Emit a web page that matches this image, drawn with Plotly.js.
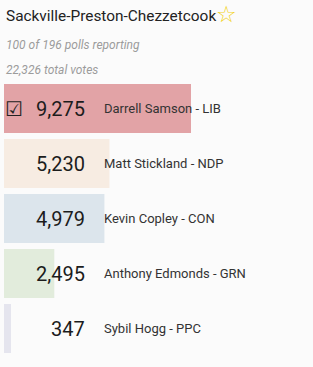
<!DOCTYPE html>
<html><head><meta charset="utf-8">
<script src="https://cdn.plot.ly/plotly-3.0.1.min.js"></script>
<style>html,body{margin:0;padding:0;background:#fbfbfb;}#chart{width:313px;height:367px;}</style>
</head><body><div id="chart"></div>
<script>
var riding = "Sackville-Preston-Chezzetcook";
var pollsReporting = 100;
var pollsTotal = 196;
var candidates = ["Darrell Samson", "Matt Stickland", "Kevin Copley", "Anthony Edmonds", "Sybil Hogg"];
var parties = ["LIB", "NDP", "CON", "GRN", "PPC"];
var votes = [9275, 5230, 4979, 2495, 347];

var partyColors = {LIB:"#e2a3a6", NDP:"#f7ece2", CON:"#dce5ec", GRN:"#e2ecdc", PPC:"#e5e5ee"};
var total = votes.reduce(function(a,b){return a+b;},0);
var fmt = function(n){return n.toLocaleString("en-US");};
var yCats = parties.map(function(p,i){return i;});

var trace = {
  type:"bar", orientation:"h",
  x: votes, y: yCats,
  marker:{color: parties.map(function(p){return partyColors[p];})},
  hoverinfo:"skip"
};

// pixel helpers: plot area x 4..313, y 81..356
function px(x){return (x-4)/309;}
function py(y){return (356-y)/275;}

var ann = [];
ann.push({xref:"paper", yref:"paper", x:px(4), y:py(16), xanchor:"left", yanchor:"middle", showarrow:false,
  text:riding, font:{family:"Roboto", size:15.4, color:"#222"}});
ann.push({xref:"paper", yref:"paper", x:px(226), y:py(14), xanchor:"center", yanchor:"middle", showarrow:false,
  text:"☆", font:{family:"DejaVu Sans", size:23, color:"#f2d21a"}});
ann.push({xref:"paper", yref:"paper", x:px(4), y:py(45), xanchor:"left", yanchor:"middle", showarrow:false,
  text:"<i>"+pollsReporting+" of "+pollsTotal+" polls reporting</i>", font:{family:"Roboto", size:12, color:"#9c9c9c"}});
ann.push({xref:"paper", yref:"paper", x:px(4), y:py(70), xanchor:"left", yanchor:"middle", showarrow:false,
  text:"<i>"+fmt(total)+" total votes</i>", font:{family:"Roboto", size:12, color:"#9c9c9c"}});
for (var i=0;i<votes.length;i++){
  ann.push({xref:"paper", yref:"y", x:px(87), y:i, xanchor:"right", yanchor:"middle", showarrow:false,
    text:fmt(votes[i]), font:{family:"Roboto", size:20, color:"#1c1c1c"}});
  ann.push({xref:"paper", yref:"y", x:px(102), y:i, xanchor:"left", yanchor:"middle", showarrow:false,
    text:candidates[i]+" - "+parties[i], font:{family:"Roboto", size:13, color:"#333"}});
}
ann.push({xref:"paper", yref:"y", x:px(14), y:0, xanchor:"center", yanchor:"middle", showarrow:false,
  text:"<b>☑</b>", font:{family:"DejaVu Sans", size:20, color:"#222"}});

var layout = {
  width:313, height:367,
  margin:{l:4, r:0, t:81, b:11, pad:0},
  paper_bgcolor:"#fbfbfb", plot_bgcolor:"#fbfbfb",
  bargap:0.11,
  showlegend:false,
  xaxis:{range:[0, 9275*309/187], visible:false, fixedrange:true},
  yaxis:{range:[4.5,-0.5], visible:false, fixedrange:true},
  annotations: ann
};
Plotly.newPlot("chart", [trace], layout, {displayModeBar:false, staticPlot:true});
</script></body></html>
